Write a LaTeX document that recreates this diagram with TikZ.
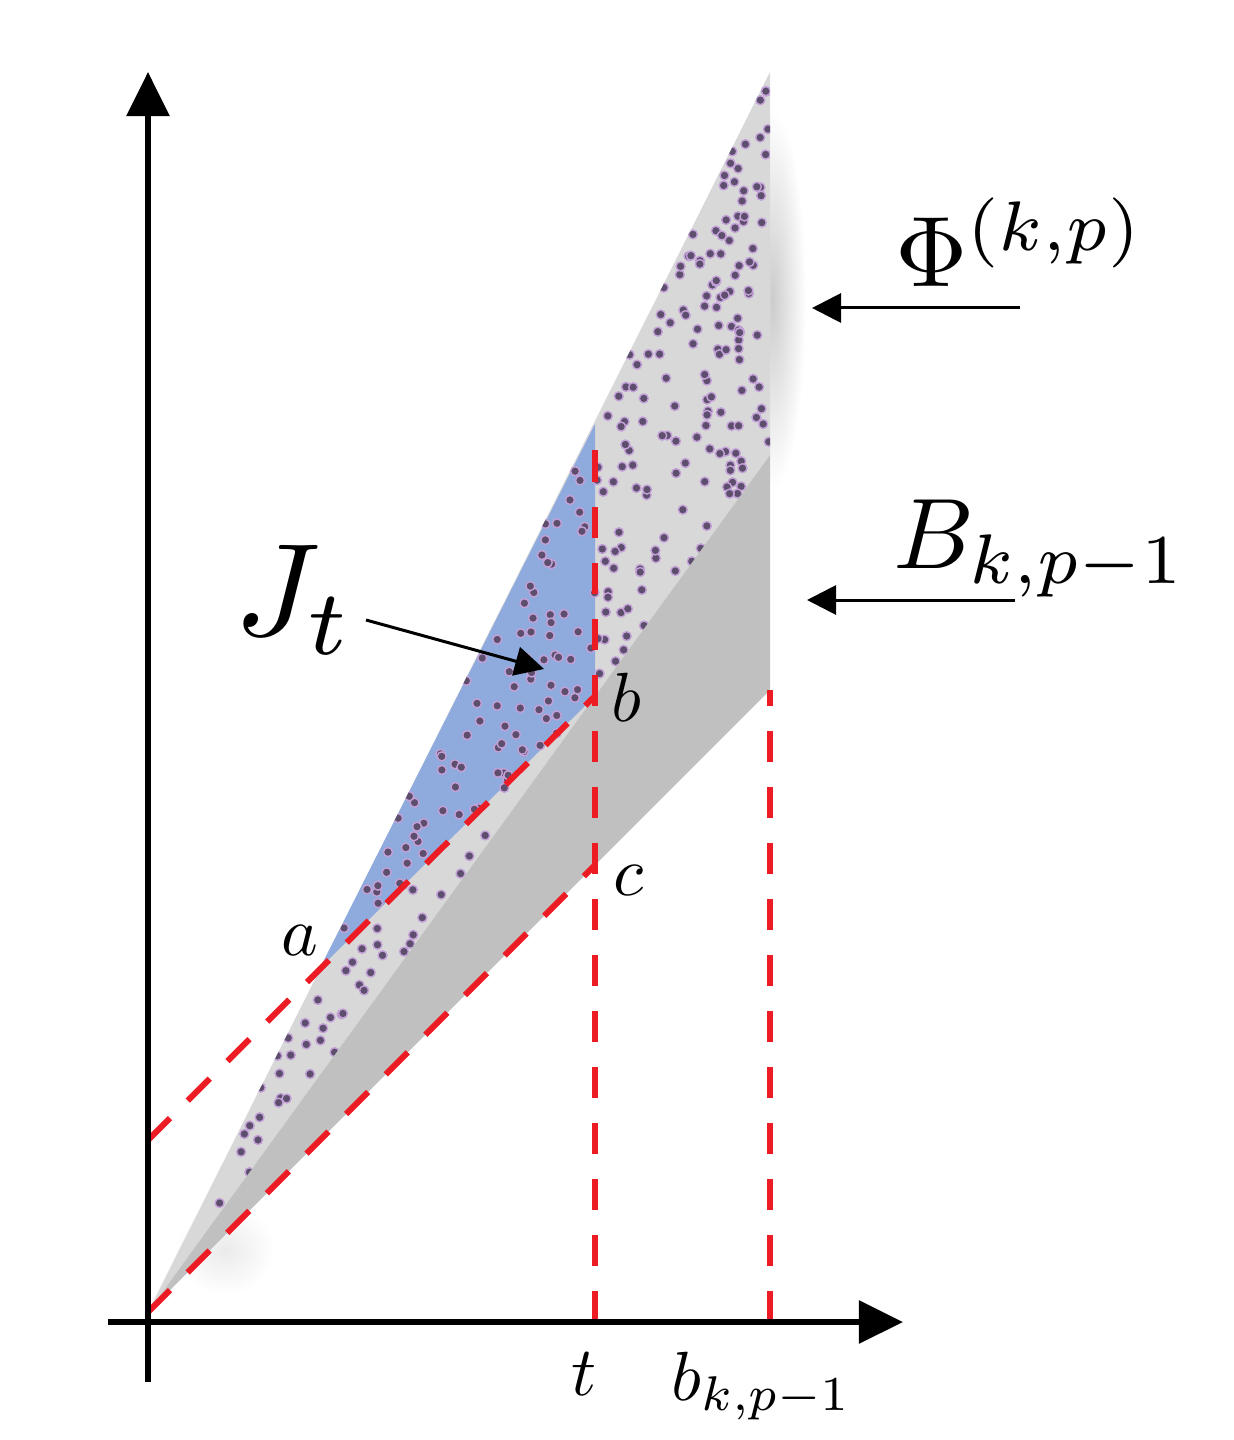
\documentclass[tikz,border=0pt]{standalone}
\usetikzlibrary{arrows.meta,calc}
\definecolor{lightg}{RGB}{216,216,216}
\definecolor{darkg}{RGB}{192,192,192}
\definecolor{jblue}{RGB}{143,170,220}
\definecolor{dotc}{RGB}{92,78,108}
\definecolor{doth}{RGB}{195,160,215}
\definecolor{dred}{RGB}{237,28,36}
\begin{document}
\begin{tikzpicture}[x=0.01cm,y=-0.01cm,
  axis/.style={line width=0.06cm,-{Triangle[length=0.44cm,width=0.42cm]}},
  reddash/.style={dred,line width=0.06cm,dash pattern=on 0.31cm off 0.25cm},
  lblarrow/.style={line width=0.03cm,-{Triangle[length=0.29cm,width=0.29cm]}},
  small/.style={scale=1.98,inner sep=0pt},
  big/.style={scale=2.85,inner sep=0pt},
  huge/.style={scale=3.75,inner sep=0pt},
  dot/.style={fill=dotc,draw=doth,line width=0.4pt}]
\useasboundingbox (0,0) rectangle (1234,1440);
% key points
\coordinate (O) at (148,1312);
\coordinate (T) at (770,72);
\coordinate (M) at (770,455);
\coordinate (L) at (770,690);
\coordinate (pa) at (320,968);
\coordinate (jtop) at (595,424);
\coordinate (pb) at (595,696);
\coordinate (pc) at (595,865);
\coordinate (y0) at (148,1140);
\coordinate (tbase) at (595,1322);
\coordinate (tup) at (595,447);
\coordinate (bbase) at (770,1322);
% soft shadows
\shade[inner color=black!20,outer color=white] (772,300) ellipse (34 and 190);
\shade[inner color=black!8,outer color=white] (225,1250) ellipse (50 and 45);
% regions
\fill[lightg] (O) -- (T) -- (M) -- cycle;
\fill[darkg] (O) -- (M) -- (L) -- cycle;
\fill[jblue] (pa) -- (jtop) -- (pb) -- cycle;
% dots
\begin{scope}
\clip (O) -- (T) -- (M) -- cycle;
\pgfmathsetseed{12345}
\foreach \i in {1,...,300}{
  \pgfmathsetmacro{\ru}{rnd}
  \pgfmathsetmacro{\rv}{rnd}
  \pgfmathsetmacro{\su}{ifthenelse(\ru+\rv>1,1-\ru,\ru)}
  \pgfmathsetmacro{\sv}{ifthenelse(\ru+\rv>1,1-\rv,\rv)}
  \pgfmathsetmacro{\px}{148+622*(\su+\sv)}
  \pgfmathsetmacro{\py}{1312-1240*\su-857*\sv}
  \path[dot] (\px,\py) circle (0.45mm);
}
\end{scope}
% red dashed lines
\draw[reddash] (y0) -- (pb);
\draw[reddash] (O) -- (pc);
\draw[reddash] (tbase) -- (tup);
\draw[reddash] (bbase) -- (L);
% axes
\coordinate (yb) at (148,1382);
\coordinate (yt) at (148,72);
\coordinate (xl) at (108,1322);
\coordinate (xr) at (903,1322);
\draw[axis] (yb) -- (yt);
\draw[axis] (xl) -- (xr);
% labels
\node[small,anchor=base] (la) at (300,955) {$a$};
\node[small,anchor=base] (lb) at (626,721) {$b$};
\node[small,anchor=base] (lc) at (629,895) {$c$};
\node[small,anchor=base] (lt) at (584,1395) {$t$};
\node[small,anchor=base west] (lbk) at (670,1400) {$b_{k,p-1}$};
\node[huge,anchor=base west] (lJ) at (232,635) {$J_t$};
\node[big,anchor=base west] (lPhi) at (893,287) {$\Phi^{(k,p)}$};
\node[big,anchor=base west] (lB) at (891,568) {$B_{k,p-1}$};
% label arrows
\coordinate (phiS) at (1020,308);
\coordinate (phiE) at (812,308);
\coordinate (bS) at (1015,600);
\coordinate (bE) at (807,600);
\coordinate (jS) at (366,620);
\coordinate (jE) at (544,669);
\draw[lblarrow] (phiS) -- (phiE);
\draw[lblarrow] (bS) -- (bE);
\draw[lblarrow] (jS) -- (jE);
\end{tikzpicture}
\end{document}
